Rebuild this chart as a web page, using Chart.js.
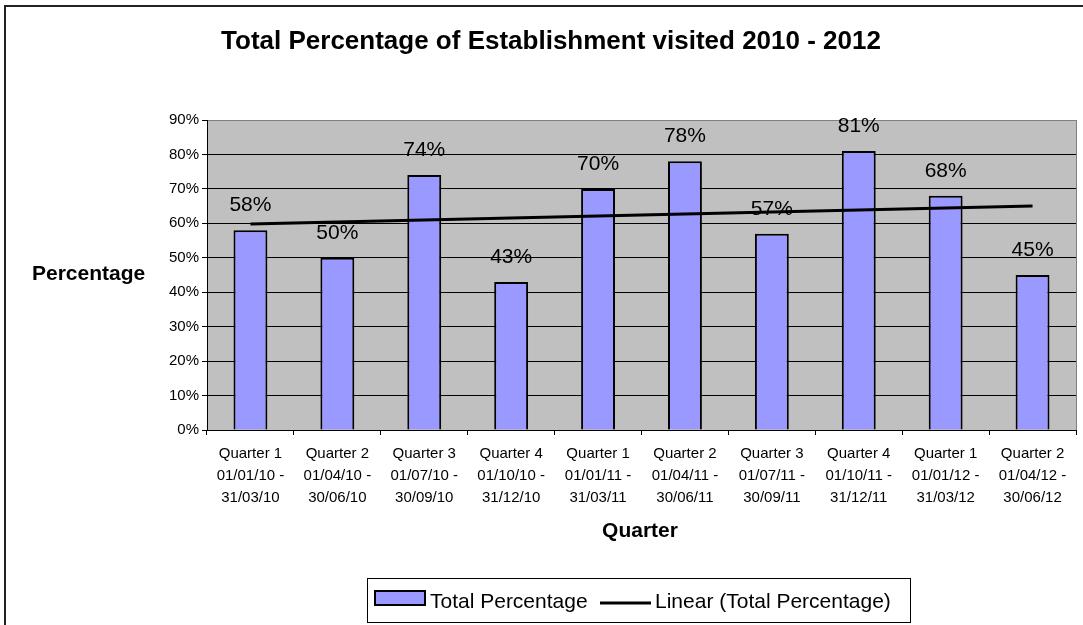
<!DOCTYPE html>
<html>
<head>
<meta charset="utf-8">
<script src="https://cdn.jsdelivr.net/npm/chart.js@4"></script>
<style>
    body { margin: 0; background: #fff; }
    #box { width: 1083px; height: 625px; }
</style>
</head>
<body>
<div id="box"><canvas id="grafico" width="1083" height="625"></canvas></div>
<script>
const quarters = [
    ['Quarter 1', '01/01/10 -', '31/03/10'],
    ['Quarter 2', '01/04/10 -', '30/06/10'],
    ['Quarter 3', '01/07/10 -', '30/09/10'],
    ['Quarter 4', '01/10/10 -', '31/12/10'],
    ['Quarter 1', '01/01/11 -', '31/03/11'],
    ['Quarter 2', '01/04/11 -', '30/06/11'],
    ['Quarter 3', '01/07/11 -', '30/09/11'],
    ['Quarter 4', '01/10/11 -', '31/12/11'],
    ['Quarter 1', '01/01/12 -', '31/03/12'],
    ['Quarter 2', '01/04/12 -', '30/06/12']
];
const totalPercentage = [58, 50, 74, 43, 70, 78, 57, 81, 68, 45];
// trend line: only the two ends
const linearTrend = [59.8, null, null, null, null, null, null, null, null, 65.0];

const fonte = '"Liberation Sans", Arial, sans-serif';

const desenhoExtra = {
    id: 'desenhoExtra',
    beforeDraw(chart) {
        const c = chart.ctx;
        const a = chart.chartArea;
        c.save();
        c.fillStyle = '#c0c0c0';
        c.fillRect(a.left, a.top, a.right - a.left, a.bottom - a.top);
        c.restore();
    },
    afterDatasetDraw(chart, args) {
        if (args.index !== 0) return;
        const c = chart.ctx;
        const meta = chart.getDatasetMeta(0);
        c.save();
        c.fillStyle = '#000';
        c.font = '21px ' + fonte;
        c.textAlign = 'center';
        c.textBaseline = 'alphabetic';
        meta.data.forEach(function (bar, i) {
            c.fillText(totalPercentage[i] + '%', bar.x, bar.y - 19);
        });
        c.restore();
    },
    afterDraw(chart) {
        const c = chart.ctx;
        const a = chart.chartArea;
        c.save();
        // borda do grafico (lado direito)
        c.strokeStyle = '#808080';
        c.lineWidth = 1;
        c.beginPath();
        c.moveTo(a.right + 0.5, a.top);
        c.lineTo(a.right + 0.5, a.bottom);
        c.stroke();

        // moldura externa
        c.strokeStyle = '#222';
        c.lineWidth = 2;
        c.strokeRect(5, 6, 1200, 800);

        // titulo
        c.fillStyle = '#000';
        c.textAlign = 'center';
        c.font = 'bold 26px ' + fonte;
        c.fillText('Total Percentage of Establishment visited 2010 - 2012', 551, 49);

        // titulos dos eixos
        c.font = 'bold 21px ' + fonte;
        c.textAlign = 'left';
        c.fillText('Percentage', 32, 280);
        c.textAlign = 'center';
        c.fillText('Quarter', 640, 537);

        // legenda
        c.strokeStyle = '#000';
        c.lineWidth = 1;
        c.strokeRect(367.5, 578.5, 543, 44);
        c.fillStyle = '#9999ff';
        c.fillRect(375, 591, 50, 14);
        c.lineWidth = 2;
        c.strokeRect(375, 591, 50, 14);
        c.lineWidth = 3;
        c.beginPath();
        c.moveTo(600, 603);
        c.lineTo(651, 603);
        c.stroke();
        c.fillStyle = '#000';
        c.font = '21px ' + fonte;
        c.textAlign = 'left';
        c.fillText('Total Percentage', 430, 608);
        c.fillText('Linear (Total Percentage)', 655, 608);
        c.restore();
    }
};

new Chart(document.getElementById('grafico'), {
    data: {
        labels: quarters,
        datasets: [
            {
                type: 'bar',
                label: 'Total Percentage',
                data: totalPercentage,
                backgroundColor: '#9999ff',
                borderColor: '#000',
                borderWidth: 2,
                categoryPercentage: 1,
                barPercentage: 0.39,
                order: 1
            },
            {
                type: 'line',
                label: 'Linear (Total Percentage)',
                data: linearTrend,
                borderColor: '#000',
                borderWidth: 3,
                pointRadius: 0,
                spanGaps: true,
                fill: false,
                order: 0
            }
        ]
    },
    options: {
        responsive: false,
        devicePixelRatio: 1,
        animation: false,
        events: [],
        layout: {
            padding: { left: 160, top: 120, right: 7, bottom: 0 }
        },
        plugins: {
            legend: { display: false },
            title: { display: false },
            tooltip: { enabled: false }
        },
        scales: {
            x: {
                offset: true,
                afterFit: function (scale) { scale.height = 195; },
                grid: {
                    drawOnChartArea: false,
                    tickLength: 5,
                    color: '#000',
                    offset: true
                },
                border: { color: '#000', width: 1 },
                ticks: {
                    color: '#000',
                    padding: 8,
                    maxRotation: 0,
                    autoSkip: false,
                    font: { family: fonte, size: 15, lineHeight: 1.45 }
                }
            },
            y: {
                min: 0,
                max: 90,
                afterFit: function (scale) { scale.width = 47; },
                grid: {
                    color: function (ctx) {
                        return ctx.tick && ctx.tick.value === 90 ? '#808080' : '#000';
                    },
                    tickColor: '#000',
                    tickLength: 5,
                    lineWidth: 1
                },
                border: { color: '#000', width: 1 },
                ticks: {
                    stepSize: 10,
                    color: '#000',
                    padding: 3,
                    font: { family: fonte, size: 15 },
                    callback: function (v) { return v + '%'; }
                }
            }
        }
    },
    plugins: [desenhoExtra]
});
</script>
</body>
</html>
